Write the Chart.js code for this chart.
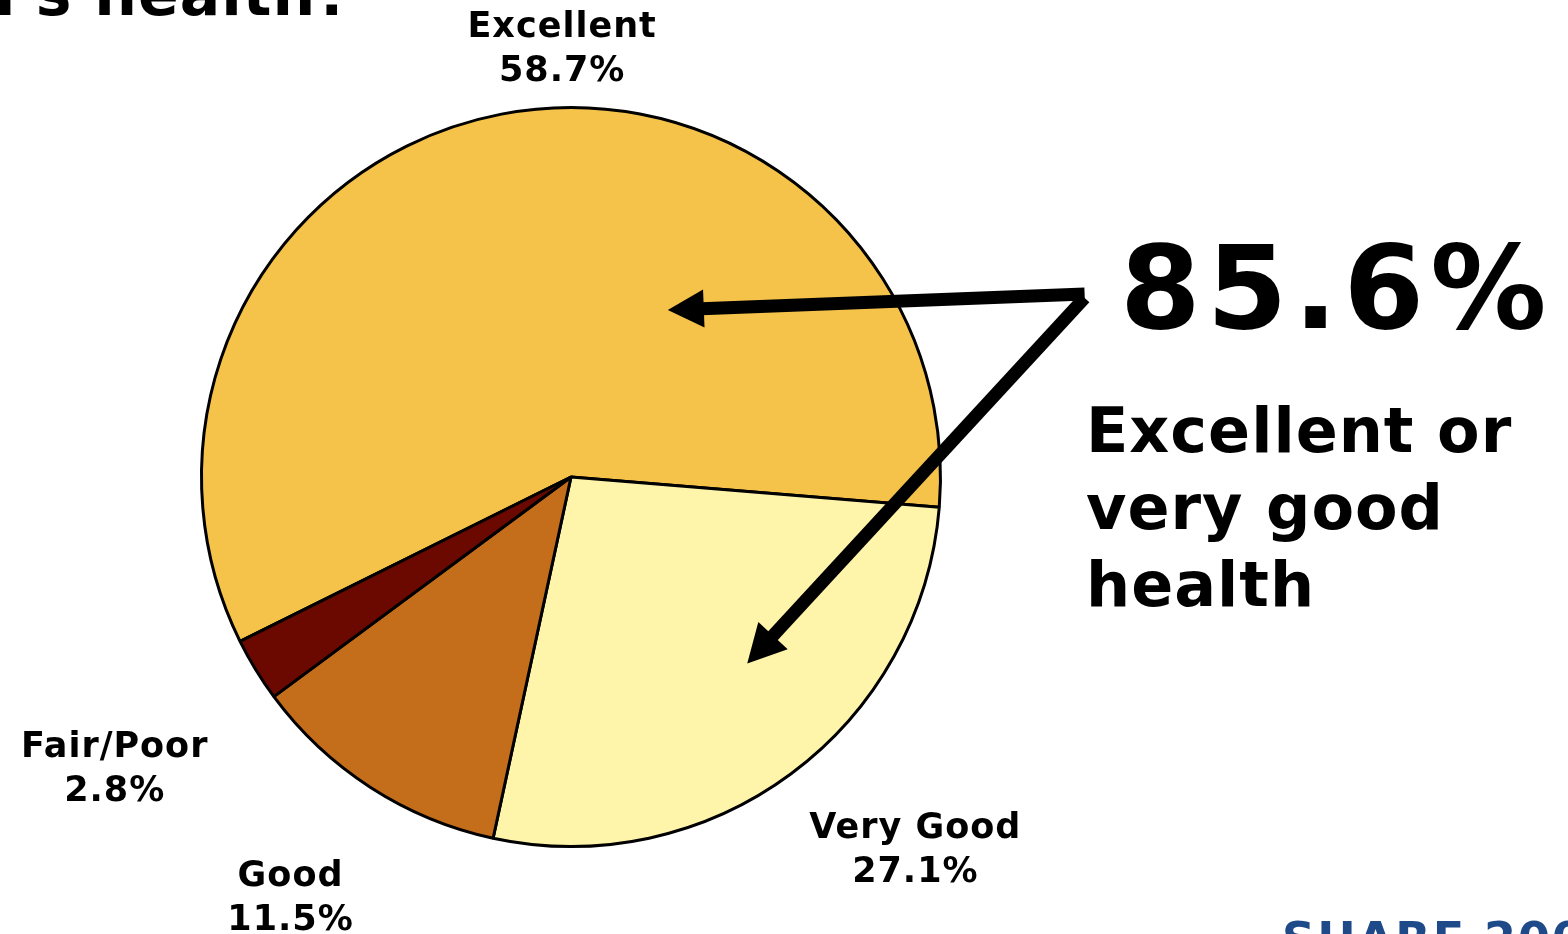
<!DOCTYPE html>
<html>
<head>
<meta charset="utf-8">
<script src="https://cdn.jsdelivr.net/npm/chart.js@4.4.1/dist/chart.umd.min.js"></script>
<style>
  html, body { margin: 0; padding: 0; background: #fff; }
  #wrap { width: 1568px; height: 934px; position: relative; }
</style>
</head>
<body>
<div id="wrap"><canvas id="healthPie"></canvas></div>
<script>
// Data
const categories = ['Excellent', 'Very Good', 'Good', 'Fair/Poor'];
const shares = [58.7, 27.1, 11.5, 2.8];
const valueLabels = ['58.7%', '27.1%', '11.5%', '2.8%'];
const calloutValue = '85.6%';
const calloutLines = ['Excellent or', 'very good', 'health'];
const sliceColors = ['#F5C24A', '#FFF5AA', '#C46E1C', '#6B0800'];

// Where each label's first line sits, as offsets from the pie centre in radius units
const labelSpots = [
  { dx: -0.024, dy: -1.165 },
  { dx: 0.932, dy: 1.004 },
  { dx: -0.759, dy: 1.133 },
  { dx: -1.235, dy: 0.784 }
];

const FONT = '"DejaVu Sans", Verdana, sans-serif';

function drawArrow(ctx, x1, y1, x2, y2, shaft, headLen, headHalf) {
  const ang = Math.atan2(y2 - y1, x2 - x1);
  const bx = x2 - headLen * Math.cos(ang);
  const by = y2 - headLen * Math.sin(ang);
  ctx.save();
  ctx.strokeStyle = '#000';
  ctx.fillStyle = '#000';
  ctx.lineWidth = shaft;
  ctx.lineCap = 'butt';
  ctx.beginPath();
  ctx.moveTo(x1, y1);
  ctx.lineTo(bx + 2 * Math.cos(ang), by + 2 * Math.sin(ang));
  ctx.stroke();
  ctx.beginPath();
  ctx.moveTo(x2, y2);
  ctx.lineTo(bx + headHalf * Math.sin(ang), by - headHalf * Math.cos(ang));
  ctx.lineTo(bx - headHalf * Math.sin(ang), by + headHalf * Math.cos(ang));
  ctx.closePath();
  ctx.fill();
  ctx.restore();
}

const extrasPlugin = {
  id: 'extras',
  afterDraw(chart) {
    const ctx = chart.ctx;
    const arc = chart.getDatasetMeta(0).data[0];
    if (!arc) return;
    const cx = arc.x, cy = arc.y, r = arc.outerRadius;

    ctx.save();
    ctx.fillStyle = '#000';
    ctx.textBaseline = 'alphabetic';

    // slice labels
    ctx.font = 'bold 35px ' + FONT;
    ctx.letterSpacing = '1px';
    ctx.textAlign = 'center';
    categories.forEach((name, i) => {
      const lx = cx + labelSpots[i].dx * r;
      const ly = cy + labelSpots[i].dy * r;
      ctx.fillText(name, lx, ly - 10);
      ctx.fillText(valueLabels[i], lx, ly + 34);
    });

    // title, cut off at the top edge
    ctx.letterSpacing = '1px';
    ctx.textAlign = 'right';
    ctx.font = 'bold 60px ' + FONT;
    ctx.fillText("d's health?", 352, 15);

    // callout
    ctx.textAlign = 'left';
    ctx.letterSpacing = '6px';
    ctx.font = 'bold 116px ' + FONT;
    ctx.fillText(calloutValue, 1120, 328);
    ctx.letterSpacing = '1px';
    ctx.font = 'bold 62px ' + FONT;
    calloutLines.forEach((t, i) => ctx.fillText(t, 1086, 452 + i * 77));

    // source mark, cut off at the bottom edge
    ctx.fillStyle = '#1F4A8A';
    ctx.letterSpacing = '2px';
    ctx.font = 'bold 46px ' + FONT;
    ctx.fillText('SHARE 2006', 1282, 955);
    ctx.restore();

    // arrows from the callout into the two slices
    const ox = cx + 1.39 * r, oy = cy - 0.49 * r;
    drawArrow(ctx, ox, oy - 2, cx + 0.262 * r, cy - 0.452 * r, 13, 36, 19);
    drawArrow(ctx, ox, oy + 2, cx + 0.477 * r, cy + 0.505 * r, 13, 38, 20);
  }
};

new Chart(document.getElementById('healthPie'), {
  type: 'pie',
  data: {
    labels: categories,
    datasets: [{
      data: shares,
      backgroundColor: sliceColors,
      borderColor: '#000',
      borderWidth: 3
    }]
  },
  options: {
    responsive: true,
    maintainAspectRatio: false,
    animation: false,
    rotation: 243.6,
    layout: { padding: { left: 200, right: 626, top: 106, bottom: 86 } },
    plugins: {
      legend: { display: false },
      tooltip: { enabled: false }
    }
  },
  plugins: [extrasPlugin]
});
</script>
</body>
</html>
